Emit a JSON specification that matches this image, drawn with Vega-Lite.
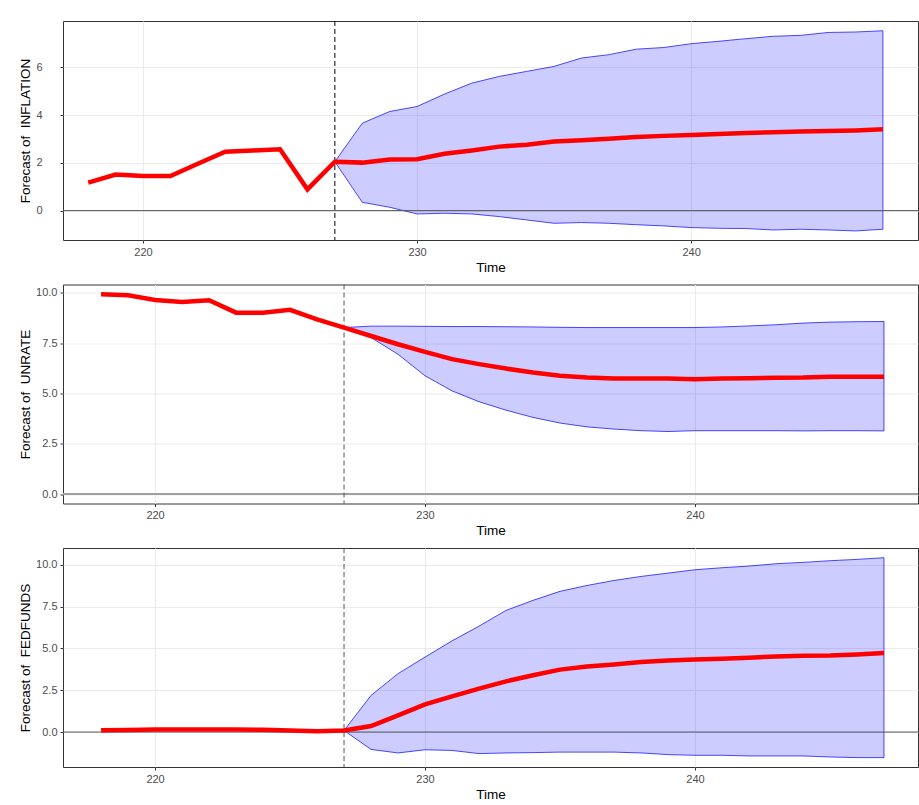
{
  "$schema": "https://vega.github.io/schema/vega-lite/v6.json",
  "padding": {"left": 18, "top": 20, "right": 0, "bottom": 0},
  "spacing": 9.5,
  "background": "white",
  "config": {
    "view": {"stroke": "#333333", "strokeWidth": 1},
    "axis": {
      "domain": false,
      "grid": true,
      "gridColor": "#EBEBEB",
      "gridWidth": 1,
      "tickColor": "#333333",
      "tickSize": 3,
      "labelFont": "Liberation Sans",
      "labelFontSize": 11,
      "labelColor": "#4D4D4D",
      "labelPadding": 3,
      "titleFont": "Liberation Sans",
      "titleFontSize": 13.5,
      "titleFontWeight": "normal",
      "titleColor": "#000000",
      "titlePadding": 3
    }
  },
  "datasets": {
    "fc": [
      {"v": "INFLATION", "t": 218, "fc": 1.17, "lo": null, "hi": null},
      {"v": "INFLATION", "t": 219, "fc": 1.51, "lo": null, "hi": null},
      {"v": "INFLATION", "t": 220, "fc": 1.45, "lo": null, "hi": null},
      {"v": "INFLATION", "t": 221, "fc": 1.45, "lo": null, "hi": null},
      {"v": "INFLATION", "t": 222, "fc": 1.96, "lo": null, "hi": null},
      {"v": "INFLATION", "t": 223, "fc": 2.47, "lo": null, "hi": null},
      {"v": "INFLATION", "t": 224, "fc": 2.52, "lo": null, "hi": null},
      {"v": "INFLATION", "t": 225, "fc": 2.57, "lo": null, "hi": null},
      {"v": "INFLATION", "t": 226, "fc": 0.89, "lo": null, "hi": null},
      {"v": "INFLATION", "t": 227, "fc": 2.05, "lo": 2.05, "hi": 2.05},
      {"v": "INFLATION", "t": 228, "fc": 2.01, "lo": 0.35, "hi": 3.66},
      {"v": "INFLATION", "t": 229, "fc": 2.14, "lo": 0.14, "hi": 4.15},
      {"v": "INFLATION", "t": 230, "fc": 2.15, "lo": -0.14, "hi": 4.36},
      {"v": "INFLATION", "t": 231, "fc": 2.38, "lo": -0.11, "hi": 4.88},
      {"v": "INFLATION", "t": 232, "fc": 2.52, "lo": -0.14, "hi": 5.34},
      {"v": "INFLATION", "t": 233, "fc": 2.68, "lo": -0.25, "hi": 5.62},
      {"v": "INFLATION", "t": 234, "fc": 2.76, "lo": -0.39, "hi": 5.83},
      {"v": "INFLATION", "t": 235, "fc": 2.89, "lo": -0.53, "hi": 6.04},
      {"v": "INFLATION", "t": 236, "fc": 2.95, "lo": -0.50, "hi": 6.39},
      {"v": "INFLATION", "t": 237, "fc": 3.01, "lo": -0.53, "hi": 6.53},
      {"v": "INFLATION", "t": 238, "fc": 3.08, "lo": -0.59, "hi": 6.76},
      {"v": "INFLATION", "t": 239, "fc": 3.13, "lo": -0.64, "hi": 6.83},
      {"v": "INFLATION", "t": 240, "fc": 3.17, "lo": -0.71, "hi": 6.99},
      {"v": "INFLATION", "t": 241, "fc": 3.21, "lo": -0.74, "hi": 7.09},
      {"v": "INFLATION", "t": 242, "fc": 3.25, "lo": -0.75, "hi": 7.20},
      {"v": "INFLATION", "t": 243, "fc": 3.28, "lo": -0.81, "hi": 7.30},
      {"v": "INFLATION", "t": 244, "fc": 3.31, "lo": -0.78, "hi": 7.34},
      {"v": "INFLATION", "t": 245, "fc": 3.33, "lo": -0.81, "hi": 7.46},
      {"v": "INFLATION", "t": 246, "fc": 3.36, "lo": -0.85, "hi": 7.48},
      {"v": "INFLATION", "t": 247, "fc": 3.41, "lo": -0.78, "hi": 7.53},
      {"v": "UNRATE", "t": 218, "fc": 9.93, "lo": null, "hi": null},
      {"v": "UNRATE", "t": 219, "fc": 9.88, "lo": null, "hi": null},
      {"v": "UNRATE", "t": 220, "fc": 9.65, "lo": null, "hi": null},
      {"v": "UNRATE", "t": 221, "fc": 9.55, "lo": null, "hi": null},
      {"v": "UNRATE", "t": 222, "fc": 9.64, "lo": null, "hi": null},
      {"v": "UNRATE", "t": 223, "fc": 9.02, "lo": null, "hi": null},
      {"v": "UNRATE", "t": 224, "fc": 9.02, "lo": null, "hi": null},
      {"v": "UNRATE", "t": 225, "fc": 9.16, "lo": null, "hi": null},
      {"v": "UNRATE", "t": 226, "fc": 8.69, "lo": null, "hi": null},
      {"v": "UNRATE", "t": 227, "fc": 8.28, "lo": 8.28, "hi": 8.28},
      {"v": "UNRATE", "t": 228, "fc": 7.86, "lo": 7.78, "hi": 8.35},
      {"v": "UNRATE", "t": 229, "fc": 7.45, "lo": 6.95, "hi": 8.35},
      {"v": "UNRATE", "t": 230, "fc": 7.07, "lo": 5.88, "hi": 8.34},
      {"v": "UNRATE", "t": 231, "fc": 6.71, "lo": 5.13, "hi": 8.33},
      {"v": "UNRATE", "t": 232, "fc": 6.46, "lo": 4.59, "hi": 8.33},
      {"v": "UNRATE", "t": 233, "fc": 6.24, "lo": 4.17, "hi": 8.32},
      {"v": "UNRATE", "t": 234, "fc": 6.04, "lo": 3.81, "hi": 8.31},
      {"v": "UNRATE", "t": 235, "fc": 5.88, "lo": 3.53, "hi": 8.29},
      {"v": "UNRATE", "t": 236, "fc": 5.79, "lo": 3.34, "hi": 8.28},
      {"v": "UNRATE", "t": 237, "fc": 5.74, "lo": 3.23, "hi": 8.28},
      {"v": "UNRATE", "t": 238, "fc": 5.74, "lo": 3.15, "hi": 8.28},
      {"v": "UNRATE", "t": 239, "fc": 5.74, "lo": 3.11, "hi": 8.28},
      {"v": "UNRATE", "t": 240, "fc": 5.71, "lo": 3.15, "hi": 8.28},
      {"v": "UNRATE", "t": 241, "fc": 5.74, "lo": 3.15, "hi": 8.31},
      {"v": "UNRATE", "t": 242, "fc": 5.76, "lo": 3.15, "hi": 8.36},
      {"v": "UNRATE", "t": 243, "fc": 5.78, "lo": 3.15, "hi": 8.42},
      {"v": "UNRATE", "t": 244, "fc": 5.79, "lo": 3.14, "hi": 8.50},
      {"v": "UNRATE", "t": 245, "fc": 5.83, "lo": 3.15, "hi": 8.55},
      {"v": "UNRATE", "t": 246, "fc": 5.83, "lo": 3.15, "hi": 8.57},
      {"v": "UNRATE", "t": 247, "fc": 5.83, "lo": 3.14, "hi": 8.58},
      {"v": "FEDFUNDS", "t": 218, "fc": 0.10, "lo": null, "hi": null},
      {"v": "FEDFUNDS", "t": 219, "fc": 0.12, "lo": null, "hi": null},
      {"v": "FEDFUNDS", "t": 220, "fc": 0.15, "lo": null, "hi": null},
      {"v": "FEDFUNDS", "t": 221, "fc": 0.15, "lo": null, "hi": null},
      {"v": "FEDFUNDS", "t": 222, "fc": 0.15, "lo": null, "hi": null},
      {"v": "FEDFUNDS", "t": 223, "fc": 0.15, "lo": null, "hi": null},
      {"v": "FEDFUNDS", "t": 224, "fc": 0.14, "lo": null, "hi": null},
      {"v": "FEDFUNDS", "t": 225, "fc": 0.09, "lo": null, "hi": null},
      {"v": "FEDFUNDS", "t": 226, "fc": 0.05, "lo": null, "hi": null},
      {"v": "FEDFUNDS", "t": 227, "fc": 0.09, "lo": 0.09, "hi": 0.09},
      {"v": "FEDFUNDS", "t": 228, "fc": 0.36, "lo": -1.04, "hi": 2.19},
      {"v": "FEDFUNDS", "t": 229, "fc": 1.00, "lo": -1.25, "hi": 3.49},
      {"v": "FEDFUNDS", "t": 230, "fc": 1.65, "lo": -1.06, "hi": 4.48},
      {"v": "FEDFUNDS", "t": 231, "fc": 2.13, "lo": -1.10, "hi": 5.45},
      {"v": "FEDFUNDS", "t": 232, "fc": 2.59, "lo": -1.29, "hi": 6.33},
      {"v": "FEDFUNDS", "t": 233, "fc": 3.03, "lo": -1.25, "hi": 7.27},
      {"v": "FEDFUNDS", "t": 234, "fc": 3.39, "lo": -1.23, "hi": 7.87},
      {"v": "FEDFUNDS", "t": 235, "fc": 3.73, "lo": -1.20, "hi": 8.41},
      {"v": "FEDFUNDS", "t": 236, "fc": 3.92, "lo": -1.20, "hi": 8.76},
      {"v": "FEDFUNDS", "t": 237, "fc": 4.04, "lo": -1.20, "hi": 9.06},
      {"v": "FEDFUNDS", "t": 238, "fc": 4.18, "lo": -1.25, "hi": 9.30},
      {"v": "FEDFUNDS", "t": 239, "fc": 4.28, "lo": -1.35, "hi": 9.50},
      {"v": "FEDFUNDS", "t": 240, "fc": 4.34, "lo": -1.39, "hi": 9.70},
      {"v": "FEDFUNDS", "t": 241, "fc": 4.38, "lo": -1.39, "hi": 9.82},
      {"v": "FEDFUNDS", "t": 242, "fc": 4.44, "lo": -1.43, "hi": 9.92},
      {"v": "FEDFUNDS", "t": 243, "fc": 4.52, "lo": -1.43, "hi": 10.06},
      {"v": "FEDFUNDS", "t": 244, "fc": 4.56, "lo": -1.43, "hi": 10.14},
      {"v": "FEDFUNDS", "t": 245, "fc": 4.58, "lo": -1.49, "hi": 10.24},
      {"v": "FEDFUNDS", "t": 246, "fc": 4.64, "lo": -1.53, "hi": 10.32},
      {"v": "FEDFUNDS", "t": 247, "fc": 4.72, "lo": -1.53, "hi": 10.42}
    ]
  },
  "vconcat": [
    {
      "width": 855, "height": 219,
      "layer": [
        {
          "data": {"name": "fc"},
          "transform": [{"filter": "datum.v == 'INFLATION' && datum.lo != null"}],
          "mark": {"type": "area", "fill": "#0000FF", "fillOpacity": 0.2, "stroke": "#0000FF", "strokeWidth": 0.7},
          "encoding": {
            "x": {"field": "t", "type": "quantitative", "scale": {"domain": [217.08, 248.28], "nice": false, "zero": false}, "axis": {"title": "Time", "values": [220, 230, 240]}},
            "y": {"field": "lo", "type": "quantitative", "scale": {"domain": [-1.23, 7.94], "nice": false, "zero": false}, "axis": {"title": "Forecast of\u00a0 INFLATION", "values": [0, 2, 4, 6], "labelPadding": 18}},
            "y2": {"field": "hi"}
          }
        },
        {
          "data": {"values": [{"y": 0}]},
          "mark": {"type": "rule", "color": "#555555", "strokeWidth": 1},
          "encoding": {"y": {"field": "y", "type": "quantitative", "axis": {"title": "Forecast of\u00a0 INFLATION", "values": [0, 2, 4, 6], "labelPadding": 18}}}
        },
        {
          "data": {"values": [{"x": 227}]},
          "mark": {"type": "rule", "color": "#000000", "strokeWidth": 1, "strokeDash": [5, 3]},
          "encoding": {"x": {"field": "x", "type": "quantitative", "axis": {"title": "Time", "values": [220, 230, 240]}}}
        },
        {
          "data": {"name": "fc"},
          "transform": [{"filter": "datum.v == 'INFLATION'"}],
          "mark": {"type": "line", "color": "#FF0000", "strokeWidth": 4.5},
          "encoding": {
            "x": {"field": "t", "type": "quantitative", "axis": {"title": "Time", "values": [220, 230, 240]}},
            "y": {"field": "fc", "type": "quantitative", "axis": {"title": "Forecast of\u00a0 INFLATION", "values": [0, 2, 4, 6], "labelPadding": 18}}
          }
        }
      ]
    },
    {
      "width": 855, "height": 219,
      "layer": [
        {
          "data": {"name": "fc"},
          "transform": [{"filter": "datum.v == 'UNRATE' && datum.lo != null"}],
          "mark": {"type": "area", "fill": "#0000FF", "fillOpacity": 0.2, "stroke": "#0000FF", "strokeWidth": 0.7},
          "encoding": {
            "x": {"field": "t", "type": "quantitative", "scale": {"domain": [216.59, 248.26], "nice": false, "zero": false}, "axis": {"title": "Time", "values": [220, 230, 240]}},
            "y": {"field": "lo", "type": "quantitative", "scale": {"domain": [-0.47, 10.42], "nice": false, "zero": false}, "axis": {"title": "Forecast of\u00a0 UNRATE", "values": [0, 2.5, 5, 7.5, 10], "format": ".1f"}},
            "y2": {"field": "hi"}
          }
        },
        {
          "data": {"values": [{"y": 0}]},
          "mark": {"type": "rule", "color": "#A0A0A0", "strokeWidth": 2},
          "encoding": {"y": {"field": "y", "type": "quantitative", "axis": {"title": "Forecast of\u00a0 UNRATE", "values": [0, 2.5, 5, 7.5, 10], "format": ".1f"}}}
        },
        {
          "data": {"values": [{"x": 227}]},
          "mark": {"type": "rule", "color": "#555555", "strokeWidth": 1, "strokeDash": [5, 3]},
          "encoding": {"x": {"field": "x", "type": "quantitative", "axis": {"title": "Time", "values": [220, 230, 240]}}}
        },
        {
          "data": {"name": "fc"},
          "transform": [{"filter": "datum.v == 'UNRATE'"}],
          "mark": {"type": "line", "color": "#FF0000", "strokeWidth": 4.5},
          "encoding": {
            "x": {"field": "t", "type": "quantitative", "axis": {"title": "Time", "values": [220, 230, 240]}},
            "y": {"field": "fc", "type": "quantitative", "axis": {"title": "Forecast of\u00a0 UNRATE", "values": [0, 2.5, 5, 7.5, 10], "format": ".1f"}}
          }
        }
      ]
    },
    {
      "width": 855, "height": 219,
      "layer": [
        {
          "data": {"name": "fc"},
          "transform": [{"filter": "datum.v == 'FEDFUNDS' && datum.lo != null"}],
          "mark": {"type": "area", "fill": "#0000FF", "fillOpacity": 0.2, "stroke": "#0000FF", "strokeWidth": 0.7},
          "encoding": {
            "x": {"field": "t", "type": "quantitative", "scale": {"domain": [216.59, 248.26], "nice": false, "zero": false}, "axis": {"title": "Time", "values": [220, 230, 240]}},
            "y": {"field": "lo", "type": "quantitative", "scale": {"domain": [-2.09, 11.0], "nice": false, "zero": false}, "axis": {"title": "Forecast of\u00a0 FEDFUNDS", "values": [0, 2.5, 5, 7.5, 10], "format": ".1f"}},
            "y2": {"field": "hi"}
          }
        },
        {
          "data": {"values": [{"y": 0}]},
          "mark": {"type": "rule", "color": "#555555", "strokeWidth": 1},
          "encoding": {"y": {"field": "y", "type": "quantitative", "axis": {"title": "Forecast of\u00a0 FEDFUNDS", "values": [0, 2.5, 5, 7.5, 10], "format": ".1f"}}}
        },
        {
          "data": {"values": [{"x": 227}]},
          "mark": {"type": "rule", "color": "#555555", "strokeWidth": 1, "strokeDash": [5, 3]},
          "encoding": {"x": {"field": "x", "type": "quantitative", "axis": {"title": "Time", "values": [220, 230, 240]}}}
        },
        {
          "data": {"name": "fc"},
          "transform": [{"filter": "datum.v == 'FEDFUNDS'"}],
          "mark": {"type": "line", "color": "#FF0000", "strokeWidth": 4.5},
          "encoding": {
            "x": {"field": "t", "type": "quantitative", "axis": {"title": "Time", "values": [220, 230, 240]}},
            "y": {"field": "fc", "type": "quantitative", "axis": {"title": "Forecast of\u00a0 FEDFUNDS", "values": [0, 2.5, 5, 7.5, 10], "format": ".1f"}}
          }
        }
      ]
    }
  ]
}
